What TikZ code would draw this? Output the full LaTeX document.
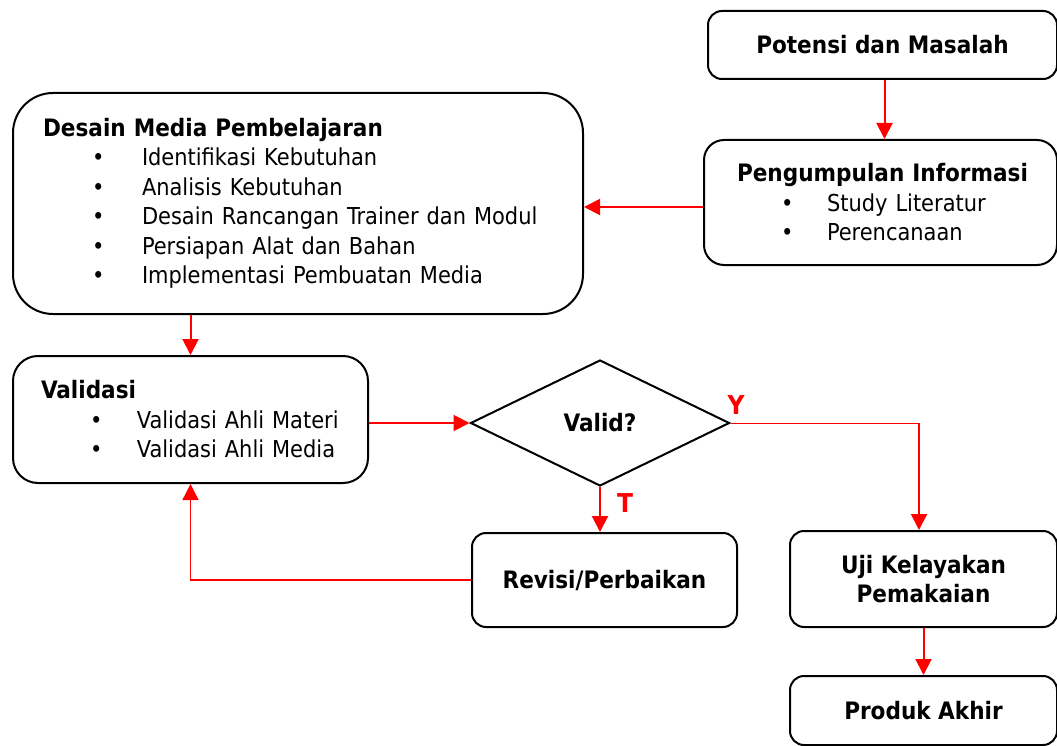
\documentclass[tikz,border=0pt]{standalone}
\usepackage{xcolor}
\usepackage{fontspec}
\setmainfont{DejaVu Sans Condensed}
\usepackage{tikz}
\usetikzlibrary{shapes,arrows.meta,positioning,calc}

% one bullet line of a list box: indent, bullet, text
\newcommand{\itm}[3]{\mbox{\fontsize{23.3}{29.5}\selectfont\hspace*{#1}\makebox[#2][l]{\textbullet}#3}}

\begin{document}
\begin{tikzpicture}[x=1pt, y=-1pt, font=\fontsize{24}{29.5}\selectfont,
    box/.style={rectangle, draw, line width=2pt, rounded corners=14pt, align=center, inner sep=0pt},
    listbox/.style={box, align=left},
    flow/.style={draw=red, line width=2pt, -{Triangle[length=16pt,width=16pt]}},
    thinflow/.style={flow, line width=1.3pt},
    answer/.style={text=red, font=\fontsize{26}{26}\selectfont\bfseries}]

    \useasboundingbox (0,0) rectangle (1057,746);

    \node[box, minimum width=349pt, minimum height=68pt, anchor=north west] (pot) at (707,10)
        {\textbf{Potensi dan Masalah}};
    \node[listbox, minimum width=353pt, minimum height=125pt, text width=287pt, anchor=north west, rounded corners=20pt] (info) at (703,139)
        {\mbox{\textbf{Pengumpulan Informasi}}\\
         \itm{44pt}{46pt}{Study Literatur}\\
         \itm{44pt}{46pt}{Perencanaan}};

    \node[listbox, minimum width=570pt, minimum height=221pt, text width=510pt, anchor=north west, rounded corners=40pt] (desain) at (12,92)
        {\textbf{Desain Media Pembelajaran}\\
         \itm{49pt}{50pt}{Identifikasi Kebutuhan}\\
         \itm{49pt}{50pt}{Analisis Kebutuhan}\\
         \itm{49pt}{50pt}{Desain Rancangan Trainer dan Modul}\\
         \itm{49pt}{50pt}{Persiapan Alat dan Bahan}\\
         \itm{49pt}{50pt}{Implementasi Pembuatan Media}};

    \node[listbox, minimum width=355pt, minimum height=127pt, text width=299pt, anchor=north west, rounded corners=25pt] (valid) at (12,355)
        {\textbf{Validasi}\\
         \itm{49pt}{47pt}{Validasi Ahli Materi}\\
         \itm{49pt}{47pt}{Validasi Ahli Media}};

    \node[diamond, draw, line width=2pt, minimum width=259pt, minimum height=126pt, inner sep=0pt, font=\fontsize{24}{24}\selectfont\bfseries] (cek) at (600,423) {Valid?};

    \node[box, minimum width=265pt, minimum height=94pt, anchor=north west] (revisi) at (471,532)
        {\textbf{Revisi/Perbaikan}};
    \node[box, minimum width=267pt, minimum height=96pt, anchor=north west] (uji) at (789,530)
        {\textbf{Uji Kelayakan}\\ \textbf{Pemakaian}};
    \node[box, minimum width=267pt, minimum height=69pt, anchor=north west] (produk) at (789,675)
        {\textbf{Produk Akhir}};

    \node[answer] (ya) at (736,405) {Y};
    \node[answer] (tidak) at (625,503) {T};

    % bend of the Y connector
    \coordinate (yturn) at (919,423);

    \draw[flow] ([xshift=2pt]pot.south) -- ([xshift=2pt]pot.south |- info.north);
    \draw[flow] ([yshift=-4.5pt]info.west) -- ([yshift=-4.5pt]info.west -| desain.east);
    \draw[flow] (desain.south -| valid.north) -- (valid.north);
    \draw[flow] (valid.east |- cek.west) -- (cek.west);
    \draw[flow] (cek.south) -- (revisi.north -| cek.south);
    \draw[red, line width=1pt] (cek.east) -- (yturn);
    \draw[flow] (yturn) -- (uji.north -| yturn);
    \draw[thinflow] (revisi.west) -| (valid.south);
    \draw[flow] (uji.south) -- (produk.north);

\end{tikzpicture}
\end{document}
